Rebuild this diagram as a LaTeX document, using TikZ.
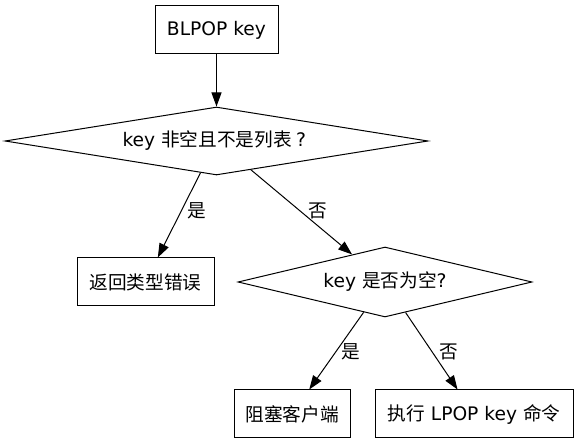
\documentclass[tikz,border=0pt]{standalone}
\usepackage{fontspec}
\setmainfont{DejaVu Sans}
\newfontfamily\cjk{Noto Sans CJK SC}
\usetikzlibrary{shapes.geometric,arrows.meta}
\begin{document}
\begin{tikzpicture}[x=0.75pt,y=-0.75pt,
  every node/.style={font=\fontsize{14}{17}\selectfont, inner sep=0pt},
  box/.style={draw, line width=0.75pt, minimum height=36pt},
  dec/.style={draw, diamond, line width=0.75pt},
  arr/.style={draw, line width=0.75pt, -{Triangle[length=10.5pt,width=7.5pt]}},
  lbl/.style={}]
\useasboundingbox (0,0) rectangle (579,445);
\node[box, minimum width=92.25pt] (start) at (216.5,30) {BLPOP key};
\node[dec, shape aspect=6.22, minimum width=317.25pt, minimum height=51pt] (d1) at (216.5,141) {key {\cjk 非空且不是列表}\makebox[14pt][c]{?}};
\node[box, minimum width=102.75pt] (r1) at (145.5,282) {\cjk 返回类型错误};
\node[dec, shape aspect=4.2, minimum width=220.5pt, minimum height=52.5pt] (d2) at (385,282) {key {\cjk 是否为空}?};
\node[box, minimum width=87pt] (r2) at (292,414) {\cjk 阻塞客户端};
\node[box, minimum width=148.5pt] (r3) at (474,414) {{\cjk 执行} LPOP key {\cjk 命令}};
\draw[arr] (start) -- (d1);
\draw[arr] (d1) -- (r1);
\draw[arr] (d1) -- (d2);
\draw[arr] (d2) -- (r2);
\draw[arr] (d2) -- (r3);
\node[lbl] (l1) at (196.5,211) {\cjk 是};
\node[lbl] (l2) at (317.5,211) {\cjk 否};
\node[lbl] (l3) at (351,352) {\cjk 是};
\node[lbl] (l4) at (449,352) {\cjk 否};
\end{tikzpicture}
\end{document}
